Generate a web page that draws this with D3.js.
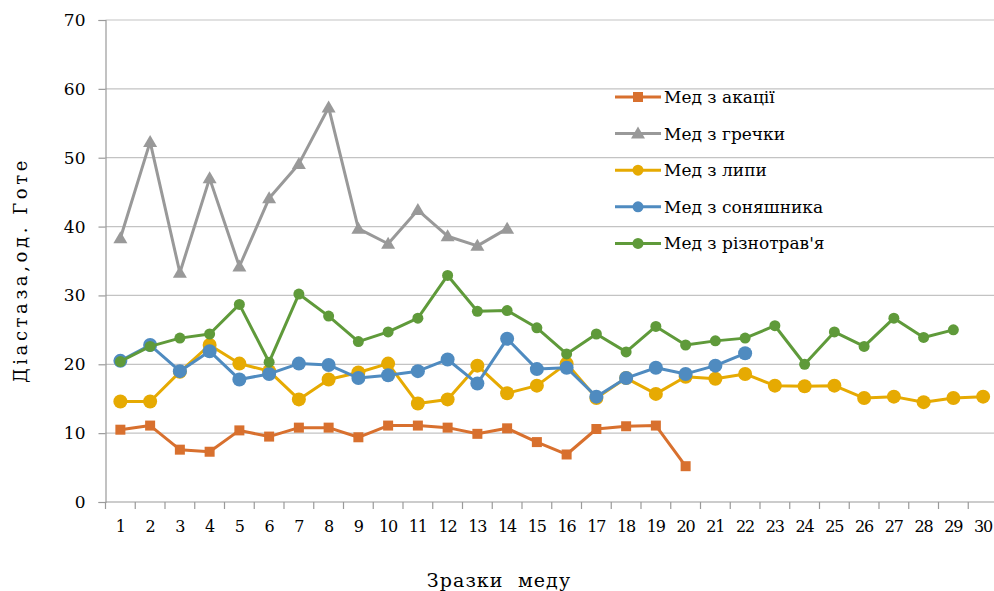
<!DOCTYPE html>
<html>
<head>
<meta charset="utf-8">
<script src="https://cdn.jsdelivr.net/npm/d3@7/dist/d3.min.js"></script>
<style>
  html, body { margin: 0; padding: 0; background: #fff; }
  svg { display: block; }
</style>
</head>
<body>
<svg id="chart" width="994" height="591" font-family="DejaVu Serif, Liberation Serif, serif"></svg>
<script>
// Diastase number of honey samples (Gothe units), by honey type
const samples = d3.range(1, 31).map(String);
const yTicks = [0, 10, 20, 30, 40, 50, 60, 70];

const seriesNames = ["Мед з акації", "Мед з гречки", "Мед з липи", "Мед з соняшника", "Мед з різнотрав'я"];

const acacia = [10.5, 11.1, 7.6, 7.3, 10.4, 9.5, 10.8, 10.8, 9.4, 11.1, 11.1, 10.8, 9.9, 10.7, 8.7, 6.9, 10.6, 11.0, 11.1, 5.2];
const buckwheat = [38.3, 52.3, 33.3, 47.0, 34.2, 44.1, 49.1, 57.3, 39.7, 37.5, 42.4, 38.6, 37.2, 39.7];
const linden = [14.6, 14.6, 18.9, 22.8, 20.1, 19.0, 14.9, 17.8, 18.8, 20.1, 14.3, 14.9, 19.8, 15.8, 16.9, 20.1, 15.1, 18.0, 15.7, 18.2, 17.9, 18.6, 16.9, 16.8, 16.9, 15.1, 15.3, 14.5, 15.1, 15.3];
const sunflower = [20.5, 22.8, 19.0, 21.9, 17.8, 18.6, 20.1, 19.9, 18.0, 18.4, 19.0, 20.7, 17.2, 23.7, 19.3, 19.5, 15.3, 18.0, 19.5, 18.6, 19.8, 21.6];
const mixedHerb = [20.4, 22.6, 23.8, 24.4, 28.7, 20.3, 30.2, 27.0, 23.3, 24.7, 26.7, 32.9, 27.7, 27.8, 25.3, 21.5, 24.4, 21.8, 25.5, 22.8, 23.4, 23.8, 25.6, 20.0, 24.7, 22.6, 26.7, 23.9, 25.0];

const series = [
  { name: seriesNames[0], values: acacia,    color: "#D8702E", marker: "square" },
  { name: seriesNames[1], values: buckwheat, color: "#999999", marker: "triangle" },
  { name: seriesNames[2], values: linden,    color: "#E6AA02", marker: "bigCircle" },
  { name: seriesNames[3], values: sunflower, color: "#4F8BC0", marker: "bigCircle" },
  { name: seriesNames[4], values: mixedHerb, color: "#5F9A3A", marker: "circle" }
];

const textFont = "DejaVu Serif, Liberation Serif, serif";

const svg = d3.select("#chart");
const plot = { left: 105.5, right: 998, top: 20, bottom: 502 };

const x = d3.scaleBand().domain(samples).range([plot.left, plot.right]);
const y = d3.scaleLinear().domain([0, 70]).range([plot.bottom, plot.top]);

// Horizontal gridlines
svg.append("g")
  .selectAll("line")
  .data(yTicks.filter(d => d > 0))
  .join("line")
  .attr("x1", plot.left).attr("x2", 994)
  .attr("y1", d => y(d)).attr("y2", d => y(d))
  .attr("stroke", "#c3c3c3").attr("stroke-width", 1.2);

// Y axis
const yAxis = svg.append("g")
  .attr("transform", `translate(${plot.left},0)`)
  .call(d3.axisLeft(y).tickValues(yTicks).tickSize(7).tickPadding(13));
yAxis.attr("font-family", textFont).attr("font-size", 17);
yAxis.select(".domain").attr("stroke", "#9a9a9a").attr("stroke-width", 1.2);
yAxis.selectAll(".tick line").attr("stroke", "#9a9a9a").attr("stroke-width", 1.2);
yAxis.selectAll(".tick text").attr("fill", "#000");

// X axis: ticks on band boundaries, labels at band centres
const xAxisG = svg.append("g").attr("transform", `translate(0,${plot.bottom})`);
xAxisG.append("line")
  .attr("x1", plot.left).attr("x2", 994)
  .attr("stroke", "#9a9a9a").attr("stroke-width", 1.2);
xAxisG.selectAll("line.tk")
  .data(samples)
  .join("line").attr("class", "tk")
  .attr("x1", d => x(d)).attr("x2", d => x(d))
  .attr("y1", 0).attr("y2", 7)
  .attr("stroke", "#9a9a9a").attr("stroke-width", 1.2);
xAxisG.selectAll("text")
  .data(samples)
  .join("text")
  .attr("x", d => x(d) + x.bandwidth() / 2)
  .attr("y", 30)
  .attr("text-anchor", "middle")
  .attr("font-family", textFont)
  .attr("font-size", 16)
  .attr("letter-spacing", -1)
  .text(d => d);

// Axis titles
svg.append("text")
  .attr("transform", "translate(27,270) rotate(-90)")
  .attr("text-anchor", "middle")
  .attr("font-family", textFont)
  .attr("font-size", 18)
  .attr("letter-spacing", 3.6)
  .text("Діастаза,од. Готе");

svg.append("text")
  .attr("x", 499).attr("y", 587)
  .attr("text-anchor", "middle")
  .attr("font-family", textFont)
  .attr("font-size", 19)
  .attr("letter-spacing", 1.1)
  .style("white-space", "pre")
  .text("Зразки  меду");

// Marker drawing
function drawMarker(g, type, color) {
  if (type === "square") {
    g.append("rect").attr("x", -5).attr("y", -5).attr("width", 10).attr("height", 10).attr("fill", color);
  } else if (type === "triangle") {
    g.append("path").attr("d", "M0,-7 L7,5 L-7,5 Z").attr("fill", color);
  } else if (type === "bigCircle") {
    g.append("circle").attr("r", 7).attr("fill", color);
  } else {
    g.append("circle").attr("r", 5.5).attr("fill", color);
  }
}

const line = d3.line()
  .x((d, i) => x(samples[i]) + x.bandwidth() / 2)
  .y(d => y(d));

series.forEach(s => {
  const g = svg.append("g");
  g.append("path")
    .datum(s.values)
    .attr("d", line)
    .attr("fill", "none")
    .attr("stroke", s.color)
    .attr("stroke-width", 3)
    .attr("stroke-linejoin", "round");
  s.values.forEach((v, i) => {
    const m = g.append("g")
      .attr("transform", `translate(${x(samples[i]) + x.bandwidth() / 2},${y(v)})`);
    drawMarker(m, s.marker, s.color);
  });
});

// Legend
const legend = svg.append("g").attr("transform", "translate(615,97)");
series.forEach((s, i) => {
  const row = legend.append("g").attr("transform", `translate(0,${i * 36.6})`);
  row.append("line").attr("x1", 0).attr("x2", 46)
    .attr("stroke", s.color).attr("stroke-width", 3);
  const m = row.append("g").attr("transform", "translate(23,0)");
  drawMarker(m, s.marker === "bigCircle" ? "circle" : s.marker, s.color);
  row.append("text")
    .attr("x", 49).attr("y", 6)
    .attr("font-family", textFont)
    .attr("font-size", 17)
    .text(s.name);
});
</script>
</body>
</html>
